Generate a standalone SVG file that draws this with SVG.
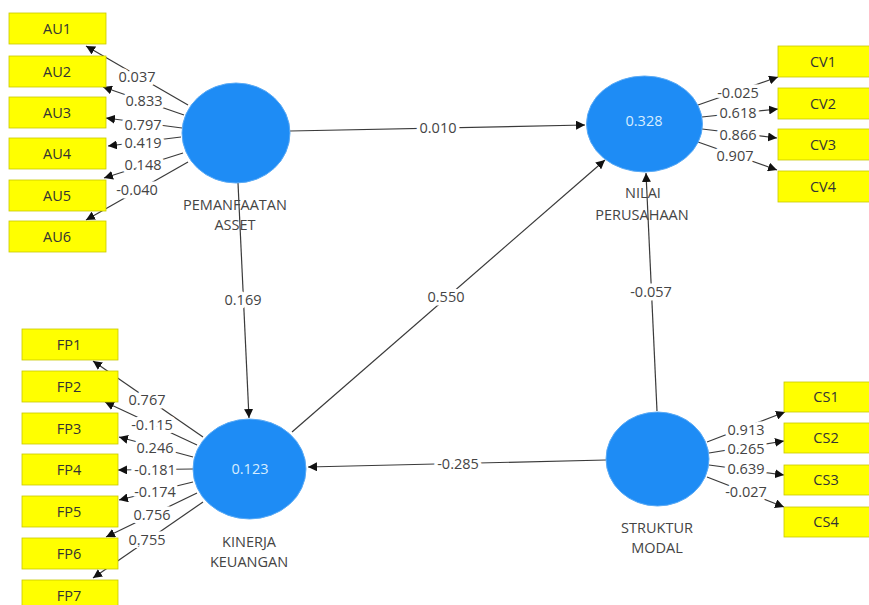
<svg xmlns="http://www.w3.org/2000/svg" width="869" height="605" viewBox="0 0 869 605">
<style>
.box{fill:#ffff00;stroke:#c8c800;stroke-width:0.8}
.bt{font-family:"Open Sans","Noto Sans",sans-serif;font-size:14.5px;fill:#333;text-anchor:middle}
.lv{fill:#1e8cf5;stroke:#5aaaf5;stroke-width:1}
.in{font-family:"Open Sans","Noto Sans",sans-serif;font-size:14.5px;fill:#d6ecff;text-anchor:middle}
.nl{font-family:"Open Sans","Noto Sans",sans-serif;font-size:14.5px;fill:#444;text-anchor:middle}
.ln{stroke:#3a3a3a;stroke-width:1.2;fill:none;marker-end:url(#ah)}
.vl{font-family:"Open Sans","Noto Sans",sans-serif;font-size:14.5px;fill:#444;text-anchor:middle;stroke:#fff;stroke-width:7;paint-order:stroke;stroke-linejoin:round}
</style>
<defs>
<marker id="ah" viewBox="0 0 10 10" refX="10" refY="5" markerWidth="9" markerHeight="9" markerUnits="userSpaceOnUse" orient="auto">
<path d="M0,0 L10,5 L0,10 Z" fill="#111"/>
</marker>
</defs>
<rect width="869" height="605" fill="#fff"/>
<g id="connectors">
<line class="ln" x1="290" y1="131" x2="585" y2="125"/>
<line class="ln" x1="238" y1="183" x2="249" y2="418"/>
<line class="ln" x1="292" y1="432" x2="605" y2="160"/>
<line class="ln" x1="606" y1="460" x2="308" y2="467"/>
<line class="ln" x1="657" y1="411" x2="646" y2="173"/>
<line class="ln" x1="188" y1="105" x2="86" y2="46"/>
<line class="ln" x1="184" y1="115" x2="103" y2="87"/>
<line class="ln" x1="182" y1="128" x2="106" y2="118"/>
<line class="ln" x1="181" y1="137" x2="108" y2="146"/>
<line class="ln" x1="183" y1="153" x2="104" y2="178"/>
<line class="ln" x1="188" y1="162" x2="86" y2="220"/>
<line class="ln" x1="698" y1="105" x2="778" y2="77"/>
<line class="ln" x1="702" y1="117" x2="778" y2="109"/>
<line class="ln" x1="702" y1="129" x2="777" y2="138"/>
<line class="ln" x1="698" y1="142" x2="777" y2="170"/>
<line class="ln" x1="203" y1="437" x2="93" y2="361"/>
<line class="ln" x1="197" y1="445" x2="105" y2="402"/>
<line class="ln" x1="193" y1="457" x2="119" y2="437"/>
<line class="ln" x1="193" y1="469" x2="118" y2="470"/>
<line class="ln" x1="193" y1="482" x2="119" y2="500"/>
<line class="ln" x1="197" y1="493" x2="106" y2="537"/>
<line class="ln" x1="203" y1="502" x2="93" y2="578"/>
<line class="ln" x1="707" y1="442" x2="785" y2="412"/>
<line class="ln" x1="709" y1="453" x2="784" y2="441"/>
<line class="ln" x1="709" y1="465" x2="784" y2="475"/>
<line class="ln" x1="707" y1="477" x2="784" y2="507"/>
<text class="vl" x="438" y="133">0.010</text>
<text class="vl" x="243" y="305">0.169</text>
<text class="vl" x="446" y="302">0.550</text>
<text class="vl" x="458" y="469">-0.285</text>
<text class="vl" x="651" y="297">-0.057</text>
<text class="vl" x="137" y="82">0.037</text>
<text class="vl" x="144" y="106">0.833</text>
<text class="vl" x="143" y="130">0.797</text>
<text class="vl" x="143" y="148">0.419</text>
<text class="vl" x="143" y="170">0.148</text>
<text class="vl" x="137" y="195">-0.040</text>
<text class="vl" x="738" y="98">-0.025</text>
<text class="vl" x="738" y="118">0.618</text>
<text class="vl" x="738" y="140">0.866</text>
<text class="vl" x="735" y="161">0.907</text>
<text class="vl" x="147" y="405">0.767</text>
<text class="vl" x="152" y="430">-0.115</text>
<text class="vl" x="155" y="453">0.246</text>
<text class="vl" x="155" y="475">-0.181</text>
<text class="vl" x="155" y="497">-0.174</text>
<text class="vl" x="152" y="520">0.756</text>
<text class="vl" x="147" y="545">0.755</text>
<text class="vl" x="746" y="435">0.913</text>
<text class="vl" x="746" y="454">0.265</text>
<text class="vl" x="746" y="474">0.639</text>
<text class="vl" x="746" y="497">-0.027</text>
</g>
<g id="PA">
<ellipse class="lv" cx="236" cy="133" rx="54" ry="50"/>
<text class="nl" x="235" y="210">PEMANFAATAN</text>
<text class="nl" x="235" y="230">ASSET</text>
</g>
<g id="NP">
<ellipse class="lv" cx="644.5" cy="124" rx="58" ry="48"/>
<text class="in" x="644" y="126">0.328</text>
<text class="nl" x="643" y="198">NILAI</text>
<text class="nl" x="642" y="220">PERUSAHAAN</text>
</g>
<g id="KK">
<ellipse class="lv" cx="249.5" cy="469" rx="56.5" ry="50"/>
<text class="in" x="250" y="474">0.123</text>
<text class="nl" x="249" y="547">KINERJA</text>
<text class="nl" x="249" y="567">KEUANGAN</text>
</g>
<g id="SM">
<ellipse class="lv" cx="657.5" cy="459" rx="51.5" ry="47"/>
<text class="nl" x="657" y="533">STRUKTUR</text>
<text class="nl" x="657" y="553">MODAL</text>
</g>
<g id="AU1"><rect class="box" x="9" y="13" width="97" height="31"/><text class="bt" x="57" y="34">AU1</text></g>
<g id="AU2"><rect class="box" x="9" y="56" width="97" height="31"/><text class="bt" x="57" y="77">AU2</text></g>
<g id="AU3"><rect class="box" x="9" y="97" width="97" height="31"/><text class="bt" x="57" y="118">AU3</text></g>
<g id="AU4"><rect class="box" x="9" y="138" width="97" height="31"/><text class="bt" x="57" y="159">AU4</text></g>
<g id="AU5"><rect class="box" x="9" y="180" width="97" height="31"/><text class="bt" x="57" y="201">AU5</text></g>
<g id="AU6"><rect class="box" x="9" y="221" width="97" height="31"/><text class="bt" x="57" y="242">AU6</text></g>
<g id="CV1"><rect class="box" x="778" y="46" width="92" height="31"/><text class="bt" x="823" y="67">CV1</text></g>
<g id="CV2"><rect class="box" x="778" y="88" width="92" height="31"/><text class="bt" x="823" y="109">CV2</text></g>
<g id="CV3"><rect class="box" x="778" y="129" width="92" height="31"/><text class="bt" x="823" y="150">CV3</text></g>
<g id="CV4"><rect class="box" x="778" y="171" width="92" height="31"/><text class="bt" x="823" y="192">CV4</text></g>
<g id="FP1"><rect class="box" x="22" y="329" width="96" height="31"/><text class="bt" x="69" y="350">FP1</text></g>
<g id="FP2"><rect class="box" x="22" y="371" width="96" height="31"/><text class="bt" x="69" y="392">FP2</text></g>
<g id="FP3"><rect class="box" x="22" y="413" width="96" height="31"/><text class="bt" x="69" y="434">FP3</text></g>
<g id="FP4"><rect class="box" x="22" y="454" width="96" height="31"/><text class="bt" x="69" y="475">FP4</text></g>
<g id="FP5"><rect class="box" x="22" y="496" width="96" height="31"/><text class="bt" x="69" y="517">FP5</text></g>
<g id="FP6"><rect class="box" x="22" y="538" width="96" height="31"/><text class="bt" x="69" y="559">FP6</text></g>
<g id="FP7"><rect class="box" x="22" y="580" width="96" height="31"/><text class="bt" x="69" y="601">FP7</text></g>
<g id="CS1"><rect class="box" x="784" y="382" width="86" height="30"/><text class="bt" x="826" y="402">CS1</text></g>
<g id="CS2"><rect class="box" x="784" y="423" width="86" height="30"/><text class="bt" x="826" y="443">CS2</text></g>
<g id="CS3"><rect class="box" x="784" y="465" width="86" height="30"/><text class="bt" x="826" y="485">CS3</text></g>
<g id="CS4"><rect class="box" x="784" y="507" width="86" height="30"/><text class="bt" x="826" y="527">CS4</text></g>
</svg>
